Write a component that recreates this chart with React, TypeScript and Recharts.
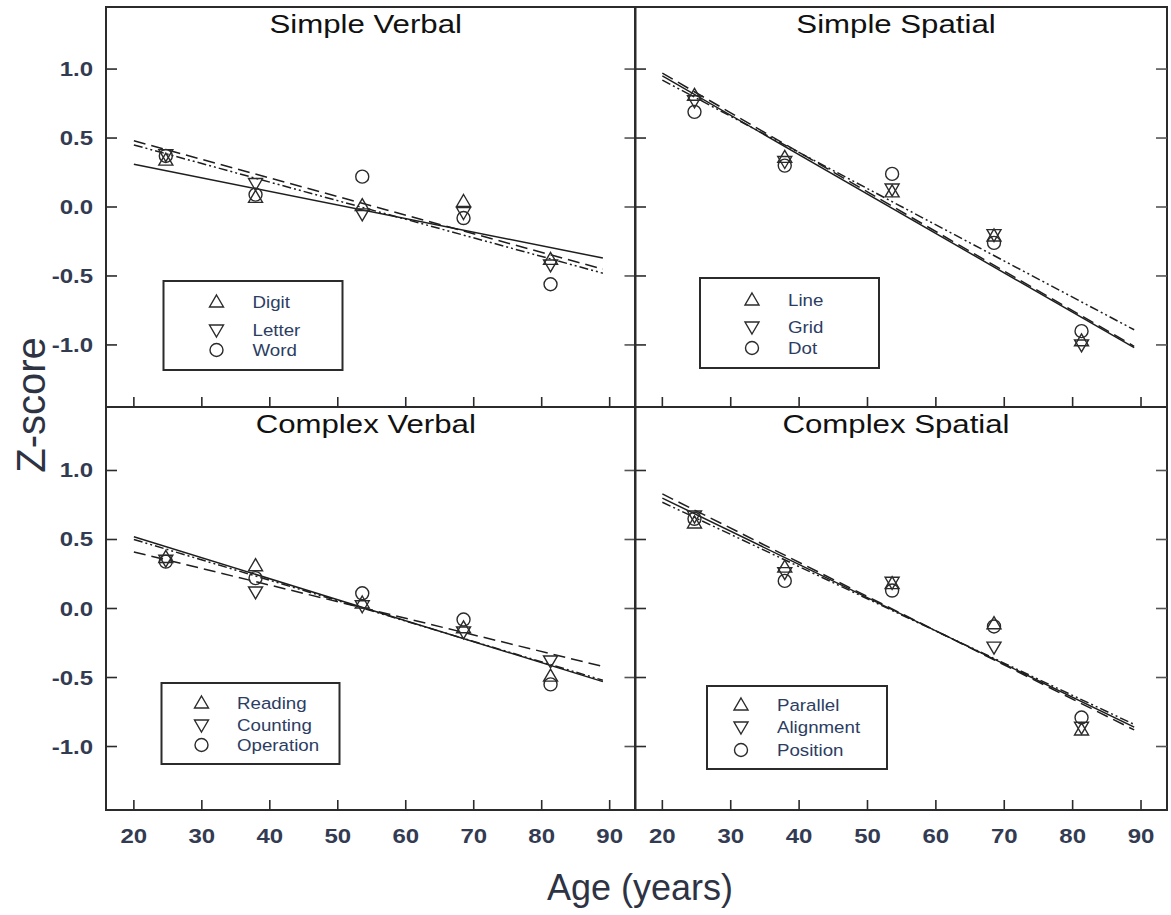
import React from 'react';
import {
  ComposedChart,
  XAxis,
  YAxis,
  Scatter,
  Line,
  ReferenceArea,
  Customized,
} from 'recharts';

const INK = '#2b2b2b';
const LABEL = '#333b52';
const LEGEND_TEXT = '#2c3d63';
const FONT = "'Liberation Sans', Arial, Helvetica, sans-serif";

// age group means (years) and the span of the fitted lines
const ages = [24.7, 37.9, 53.6, 68.5, 81.3];
const fitAges = [20, 89];
const ageTicks = [20, 30, 40, 50, 60, 70, 80, 90];
const zTicks = [-1, -0.5, 0, 0.5, 1];

// Simple Verbal
const digit = [0.34, 0.07, 0.01, 0.04, -0.38];
const letter = [0.38, 0.17, -0.05, -0.04, -0.42];
const word = [0.37, 0.09, 0.22, -0.08, -0.56];
const digitFit = [0.31, -0.37];
const letterFit = [0.48, -0.45];
const wordFit = [0.45, -0.48];

// Simple Spatial
const lineTask = [0.81, 0.36, 0.11, -0.21, -0.97];
const grid = [0.77, 0.33, 0.13, -0.2, -1.0];
const dot = [0.69, 0.3, 0.24, -0.26, -0.9];
const lineFit = [0.95, -1.02];
const gridFit = [0.97, -1.01];
const dotFit = [0.92, -0.89];

// Complex Verbal
const reading = [0.37, 0.31, 0.04, -0.14, -0.49];
const counting = [0.35, 0.12, 0.02, -0.17, -0.38];
const operation = [0.34, 0.22, 0.11, -0.08, -0.55];
const readingFit = [0.52, -0.53];
const countingFit = [0.41, -0.42];
const operationFit = [0.5, -0.52];

// Complex Spatial
const parallel = [0.62, 0.3, 0.18, -0.11, -0.88];
const alignment = [0.67, 0.26, 0.19, -0.28, -0.86];
const position = [0.65, 0.2, 0.13, -0.13, -0.79];
const parallelFit = [0.8, -0.86];
const alignmentFit = [0.83, -0.88];
const positionFit = [0.77, -0.84];

type Series = { name: string; z: number[]; fit: number[] };

const MARKERS = ['up', 'down', 'circle'];
const DASHES = [undefined, '12 6', '9 3 2 3 2 3'];

// room around each plot box: y axis strip, top, right, x axis strip
const ML = 100;
const MT = 60;
const MR = 20;
const MB = 80;

function SText({ x, y, sx = 1.2, children, ...rest }: any) {
  return (
    <text transform={`translate(${x} ${y}) scale(${sx} 1)`} fontFamily={FONT} {...rest}>
      {children}
    </text>
  );
}

function Marker({ kind, cx, cy }: { kind: string; cx: number; cy: number }) {
  if (cx == null || cy == null) return null;
  if (kind === 'up') {
    return (
      <path
        d={`M${cx},${cy - 7} L${cx + 7},${cy + 5} L${cx - 7},${cy + 5} Z`}
        fill="none"
        stroke={INK}
        strokeWidth={1.4}
      />
    );
  }
  if (kind === 'down') {
    return (
      <path
        d={`M${cx},${cy + 7} L${cx + 7},${cy - 5} L${cx - 7},${cy - 5} Z`}
        fill="none"
        stroke={INK}
        strokeWidth={1.4}
      />
    );
  }
  return <circle cx={cx} cy={cy} r={6.5} fill="none" stroke={INK} strokeWidth={1.4} />;
}

type LegendBox = { x: number; y: number; w: number; h: number; mx: number; tx: number; rows: number[] };

type PanelProps = {
  title: string;
  left: number;
  top: number;
  width: number;
  height: number;
  xDomain: [number, number];
  yDomain: [number, number];
  series: Series[];
  showX: boolean;
  showY: boolean;
  legend: LegendBox;
};

function Panel({ title, left, top, width, height, xDomain, yDomain, series, showX, showY, legend }: PanelProps) {
  // inward tick marks; labels only on the outer edges of the grid
  const xTick = (p: any) => (
    <g>
      <line x1={p.x} x2={p.x} y1={p.y} y2={p.y - 10} stroke={INK} strokeWidth={1.6} />
      {showX && (
        <SText x={p.x} y={p.y + 33} textAnchor="middle" fontSize={20} fontWeight="bold" fill={LABEL}>
          {p.payload.value}
        </SText>
      )}
    </g>
  );

  const yTick = (p: any) => (
    <g>
      <line x1={p.x} x2={p.x + 11} y1={p.y} y2={p.y} stroke={INK} strokeWidth={1.6} />
      <line x1={p.x + width} x2={p.x + width - 11} y1={p.y} y2={p.y} stroke="#555" strokeWidth={1.6} />
      {showY && (
        <SText x={p.x - 13} y={p.y + 7} textAnchor="end" fontSize={20} fontWeight="bold" fill={LABEL}>
          {Number(p.payload.value).toFixed(1)}
        </SText>
      )}
    </g>
  );

  const overlay = () => {
    const bx = ML + legend.x;
    const by = MT + legend.y;
    return (
      <g>
        <SText x={ML + width / 2 - 5} y={MT + 26} textAnchor="middle" fontSize={26} fill="#111">
          {title}
        </SText>
        <rect x={bx} y={by} width={legend.w} height={legend.h} fill="#fff" stroke={INK} strokeWidth={2} />
        {series.map((s, i) => (
          <g key={s.name}>
            <Marker kind={MARKERS[i]} cx={bx + legend.mx} cy={by + legend.rows[i]} />
            <SText x={bx + legend.tx} y={by + legend.rows[i] + 6} sx={1.1} fontSize={17} fill={LEGEND_TEXT}>
              {s.name}
            </SText>
          </g>
        ))}
      </g>
    );
  };

  return (
    <div style={{ position: 'absolute', left: left - ML, top: top - MT }}>
      <ComposedChart
        width={width + ML + MR}
        height={height + MT + MB}
        margin={{ top: MT, right: MR, bottom: 0, left: 0 }}
      >
        <XAxis
          type="number"
          dataKey="age"
          domain={xDomain}
          ticks={ageTicks}
          interval={0}
          allowDataOverflow
          height={MB}
          tickSize={0}
          tickMargin={0}
          axisLine={false}
          tickLine={false}
          tick={xTick}
        />
        <YAxis
          type="number"
          dataKey="z"
          domain={yDomain}
          ticks={zTicks}
          interval={0}
          allowDataOverflow
          width={ML}
          tickSize={0}
          tickMargin={0}
          axisLine={false}
          tickLine={false}
          tick={yTick}
        />
        <ReferenceArea
          x1={xDomain[0]}
          x2={xDomain[1]}
          y1={yDomain[0]}
          y2={yDomain[1]}
          fill="none"
          stroke={INK}
          strokeWidth={2}
          ifOverflow="visible"
        />
        {series.map((s, i) => (
          <Line
            key={`fit-${s.name}`}
            data={fitAges.map((a, k) => ({ age: a, z: s.fit[k] }))}
            dataKey="z"
            stroke="#1e1e1e"
            strokeWidth={1.5}
            strokeDasharray={DASHES[i]}
            dot={false}
            activeDot={false}
            legendType="none"
            isAnimationActive={false}
          />
        ))}
        {series.map((s, i) => (
          <Scatter
            key={`pts-${s.name}`}
            name={s.name}
            data={ages.map((a, k) => ({ age: a, z: s.z[k] }))}
            dataKey="z"
            shape={(p: any) => <Marker kind={MARKERS[i]} cx={p.cx} cy={p.cy} />}
            isAnimationActive={false}
          />
        ))}
        <Customized component={overlay} />
      </ComposedChart>
    </div>
  );
}

const LEFT_X: [number, number] = [15.9, 93.8];
const RIGHT_X: [number, number] = [16.0, 93.8];
const TOP_Y: [number, number] = [-1.45, 1.45];
const BOTTOM_Y: [number, number] = [-1.46, 1.46];

export default function App() {
  return (
    <div style={{ position: 'absolute', left: 0, top: 0, width: 1171, height: 915, background: '#fff' }}>
      <Panel
        title="Simple Verbal"
        left={105.5}
        top={7}
        width={529.5}
        height={400}
        xDomain={LEFT_X}
        yDomain={TOP_Y}
        showX={false}
        showY={true}
        series={[
          { name: 'Digit', z: digit, fit: digitFit },
          { name: 'Letter', z: letter, fit: letterFit },
          { name: 'Word', z: word, fit: wordFit },
        ]}
        legend={{ x: 57.5, y: 274, w: 179, h: 89, mx: 53, tx: 89, rows: [21, 49, 69] }}
      />
      <Panel
        title="Simple Spatial"
        left={635}
        top={7}
        width={532}
        height={400}
        xDomain={RIGHT_X}
        yDomain={TOP_Y}
        showX={false}
        showY={false}
        series={[
          { name: 'Line', z: lineTask, fit: lineFit },
          { name: 'Grid', z: grid, fit: gridFit },
          { name: 'Dot', z: dot, fit: dotFit },
        ]}
        legend={{ x: 65, y: 271, w: 179, h: 90, mx: 52, tx: 88, rows: [22, 49, 70] }}
      />
      <Panel
        title="Complex Verbal"
        left={105.5}
        top={407}
        width={529.5}
        height={403}
        xDomain={LEFT_X}
        yDomain={BOTTOM_Y}
        showX={true}
        showY={true}
        series={[
          { name: 'Reading', z: reading, fit: readingFit },
          { name: 'Counting', z: counting, fit: countingFit },
          { name: 'Operation', z: operation, fit: operationFit },
        ]}
        legend={{ x: 55.5, y: 276, w: 178, h: 81, mx: 40, tx: 75.5, rows: [20, 42, 62] }}
      />
      <Panel
        title="Complex Spatial"
        left={635}
        top={407}
        width={532}
        height={403}
        xDomain={RIGHT_X}
        yDomain={BOTTOM_Y}
        showX={true}
        showY={false}
        series={[
          { name: 'Parallel', z: parallel, fit: parallelFit },
          { name: 'Alignment', z: alignment, fit: alignmentFit },
          { name: 'Position', z: position, fit: positionFit },
        ]}
        legend={{ x: 72, y: 279, w: 180, h: 83, mx: 34, tx: 70, rows: [19, 41, 64] }}
      />
      <svg
        width={1171}
        height={915}
        style={{ position: 'absolute', left: 0, top: 0, pointerEvents: 'none' }}
      >
        <SText x={640} y={900} sx={1.0} textAnchor="middle" fontSize={36} fill="#2e3344">
          Age (years)
        </SText>
        <text
          transform="translate(45 405) rotate(-90)"
          textAnchor="middle"
          fontFamily={FONT}
          fontSize={40}
          fill="#2e3344"
        >
          Z-score
        </text>
      </svg>
    </div>
  );
}
